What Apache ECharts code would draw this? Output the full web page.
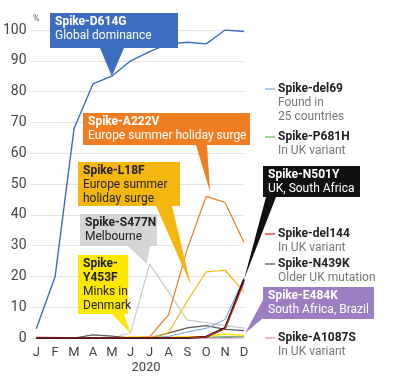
<!DOCTYPE html>
<html><head><meta charset="utf-8">
<script src="https://cdn.jsdelivr.net/npm/echarts@6/dist/echarts.min.js"></script>
<style>html,body{margin:0;padding:0;background:#fff}#c{width:412px;height:390px}</style>
</head><body><div id="c"></div>
<script>
const months = ['J','F','M','A','M','J','J','A','S','O','N','D'];
const yTicks = [0,10,20,30,40,50,60,70,80,90,100];
const d614g  = [3, 20, 68, 82.5, 85, 90, 93, 95.5, 96, 95.5, 100, 99.5];
const a222v  = [0, 0, 0, 0, 0, 0, 0.4, 7.5, 29, 46, 44, 31];
const l18f   = [0, 0, 0, 0, 0, 0, 0, 1.7, 12, 21.5, 22, 15];
const s477n  = [0, 0, 0, 0, 0, 1.7, 24, 15, 5.8, 5, 4, 3.2];
const del69  = [0, 0, 0, 0, 0, 0, 0, 0.5, 2, 3.1, 6, 19.5];
const p681h  = [0, 0, 0, 0, 0, 0, 0, 0, 0.2, 0.3, 0.5, 0.5];
const n501y  = [0, 0, 0, 0, 0, 0, 0, 0, 0, 0.4, 3.3, 19];
const del144 = [0, 0, 0, 0, 0, 0, 0, 0, 0, 0.4, 3, 18];
const n439k  = [0, 0, 0, 1, 0.6, 0, 0, 1.6, 3.3, 4, 2.8, 2.4];
const e484k  = [0, 0, 0, 0, 0, 0, 0, 0, 0, 0, 0.1, 0.4];
const a1087s = [0.3, 0.2, 0, 0, 0, 0, 0, 0, 0, 0, 0, 0];
const y453f  = [0, 0, 0, 0, 0, 0.3, 0.3, 0.3, 0.3, 0.5, 1.3, 0.8];

const FONT = 'Roboto';
const FS = '12px ';
const pts = arr => arr.map((v, i) => [i, v]);
function line(name, data, color, width, z) {
  return { name, type: 'line', data: pts(data), symbol: 'none', z: z || 2,
    lineStyle: { color, width: width || 1.2 }, emphasis: { disabled: true } };
}
const series = [
  line('A1087S', a1087s, '#e98fb3'),
  line('E484K', e484k, '#9c7fc2'),
  line('P681H', p681h, '#6cbf5c', 1),
  line('Y453F', y453f, '#ffe600', 1.5),
  line('S477N', s477n, '#c9c9c9'),
  line('N439K', n439k, '#5a5a5a'),
  line('del69', del69, '#86b0dc'),
  line('L18F', l18f, '#f5b70f'),
  line('A222V', a222v, '#ef7d22'),
  line('N501Y', n501y, '#111111', 2),
  line('del144', del144, '#e0282e', 1.2, 3),
  line('D614G', d614g, '#3c6dc1', 1.4, 4)
];

const chart = echarts.init(document.getElementById('c'), null, { renderer: 'canvas' });
chart.setOption({
  animation: false,
  grid: { left: 30, right: 168, top: 30, bottom: 52 },
  xAxis: { type: 'value', min: -0.3, max: 11,
    axisLine: { show: false }, axisTick: { show: false }, splitLine: { show: false },
    axisLabel: { customValues: months.map((m, i) => i), formatter: v => months[Math.round(v)],
      fontFamily: FONT, fontSize: 13, color: '#444', margin: 8 } },
  yAxis: { type: 'value', min: 0, max: 100, interval: 10,
    axisLine: { show: false }, axisTick: { show: false },
    splitLine: { lineStyle: { color: '#e4e4e4', width: 1 } },
    axisLabel: { customValues: yTicks, fontFamily: FONT, fontSize: 14, color: '#444', margin: 4 } },
  series
});

function P(x, y) { return chart.convertToPixel({ gridIndex: 0 }, [x, y]); }

function callout(box, color, lines, textColor, base, tipData) {
  const [x, y, w, h] = box;
  const tip = P(tipData[0], tipData[1]);
  const els = [];
  els.push({ type: 'polygon', z: 50, shape: { points: [base[0], base[1], tip] },
    style: { fill: color } });
  els.push({ type: 'rect', z: 50, shape: { x, y, width: w, height: h }, style: { fill: color } });
  lines.forEach((l, i) => {
    els.push({ type: 'text', z: 51, x: x + 5, y: y + 3 + i * 14,
      style: { text: l[0], fill: textColor, font: (l[1] ? 'bold ' : '') + FS + FONT,
        textVerticalAlign: 'top' } });
  });
  return els;
}

function rlabel(y, color, title, sub) {
  const els = [];
  els.push({ type: 'line', z: 50, shape: { x1: 265, y1: y, x2: 275, y2: y }, style: { stroke: color, lineWidth: 1.3 } });
  els.push({ type: 'text', z: 51, x: 278, y: y, style: { text: title, fill: '#222', font: 'bold ' + FS + FONT, textVerticalAlign: 'middle' } });
  sub.forEach((s, i) => {
    els.push({ type: 'text', z: 51, x: 278, y: y + 14 + i * 13.5, style: { text: s, fill: '#777', font: FS + FONT, textVerticalAlign: 'middle' } });
  });
  return els;
}

let g = [];
g.push({ type: 'text', x: 33, y: 14, style: { text: '%', fill: '#666', font: '9px ' + FONT } });
g.push({ type: 'text', x: 146, y: 368, style: { text: '2020', fill: '#444', font: '13px ' + FONT, textAlign: 'center', textVerticalAlign: 'middle' } });
g = g.concat(callout([50, 13, 128, 35], '#3c6dc1', [['Spike-D614G', 1], ['Global dominance', 0]], '#fff', [[100, 48], [124, 48]], [4, 85]));
g = g.concat(callout([83, 113, 167, 32], '#ef7d22', [['Spike-A222V', 1], ['Europe summer holiday surge', 0]], '#fff', [[196, 145], [207, 145]], [9.2, 47.5]));
g = g.concat(callout([78, 162, 102, 44], '#f5b70f', [['Spike-L18F', 1], ['Europe summer', 0], ['holiday surge', 0]], '#222', [[156, 206], [172, 206]], [8.2, 17]));
g = g.concat(callout([80, 214, 77, 32], '#d5d5d5', [['Spike-S477N', 1], ['Melbourne', 0]], '#222', [[128, 246], [150, 246]], [5.85, 24]));
g = g.concat(callout([78, 255, 50, 59], '#ffe800', [['Spike-', 1], ['Y453F', 1], ['Minks in', 0], ['Denmark', 0]], '#222', [[112, 314], [124, 314]], [5, 1.5]));
g = g.concat(callout([263, 166, 97, 31], '#111111', [['Spike-N501Y', 1], ['UK, South Africa', 0]], '#fff', [[266, 197], [276, 197]], [11, 19]));
g = g.concat(callout([263, 287, 111, 32], '#9c7fc2', [['Spike-E484K', 1], ['South Africa, Brazil', 0]], '#fff', [[263, 300], [263, 318]], [11.05, 1.5]));
g = g.concat(rlabel(89, '#86b0dc', 'Spike-del69', ['Found in', '25 countries']));
g = g.concat(rlabel(137, '#6cbf5c', 'Spike-P681H', ['In UK variant']));
g = g.concat(rlabel(234, '#e0282e', 'Spike-del144', ['In UK variant']));
g = g.concat(rlabel(264, '#5a5a5a', 'Spike-N439K', ['Older UK mutation']));
g = g.concat(rlabel(338, '#e98fb3', 'Spike-A1087S', ['In UK variant']));
chart.setOption({ graphic: g });
</script></body></html>
